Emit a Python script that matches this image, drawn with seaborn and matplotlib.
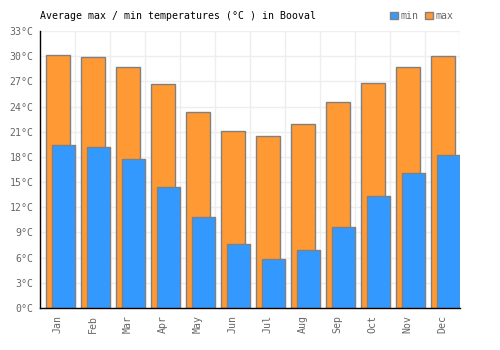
import matplotlib
matplotlib.use("Agg")
import matplotlib.pyplot as plt
import seaborn as sns
import pandas as pd
import numpy as np

# Monthly averages
months = ["Jan", "Feb", "Mar", "Apr", "May", "Jun",
          "Jul", "Aug", "Sep", "Oct", "Nov", "Dec"]
max_temp = [30.2, 29.9, 28.7, 26.7, 23.3, 21.1, 20.5, 21.9, 24.6, 26.8, 28.7, 30.0]
min_temp = [19.4, 19.2, 17.7, 14.4, 10.8, 7.6, 5.8, 6.9, 9.7, 13.4, 16.1, 18.2]
y_ticks = list(range(0, 34, 3))

df = pd.DataFrame({"month": months, "max": max_temp, "min": min_temp})

sns.set_style("white")
plt.rcParams["font.family"] = ["DejaVu Sans Mono"]
fs = 7.1
grey = "#666666"

fig = plt.figure(figsize=(5, 3.5), dpi=100)
ax = fig.add_axes([0.08, 0.12, 0.84, 0.7914])

# max bars first, min bars on top shifted to the right
sns.barplot(data=df, x="month", y="max", color="#ff9933", saturation=1,
            width=0.68, edgecolor="#808080", linewidth=1, errorbar=None,
            label="max", ax=ax)
sns.barplot(data=df, x="month", y="min", color="#3399ff", saturation=1,
            width=0.68, edgecolor="#808080", linewidth=1, errorbar=None,
            label="min", ax=ax)
if ax.get_legend() is not None:
    ax.get_legend().remove()

for bar in ax.containers[0]:
    bar.set_x(bar.get_x() + 0.01)
for bar in ax.containers[1]:
    bar.set_x(bar.get_x() + 0.17)

ax.set_xlim(-0.5, 11.5)
ax.set_ylim(0, 33)
ax.set_yticks(y_ticks)
ax.set_yticklabels([f"{v}°C" for v in y_ticks])
ax.set_xlabel("")
ax.set_ylabel("")

# grid
ax.set_axisbelow(True)
ax.yaxis.grid(True, color="#eeeeee", lw=1)
ax.set_xticks(np.arange(0.5, 11.6, 1), minor=True)
ax.xaxis.grid(True, which="minor", color="#eeeeee", lw=1)
ax.xaxis.grid(False, which="major")

for side in ["top", "right"]:
    ax.spines[side].set_visible(False)
for side in ["left", "bottom"]:
    ax.spines[side].set_color("black")
    ax.spines[side].set_linewidth(1)

ax.tick_params(axis="both", which="both", length=0, labelsize=fs, labelcolor=grey)
ax.tick_params(axis="y", pad=4.5)
ax.tick_params(axis="x", pad=5)
plt.setp(ax.get_xticklabels(), rotation=90)

fig.text(0.08, 0.954, "Average max / min temperatures (°C ) in Booval",
         fontsize=fs, color="black", va="center", ha="left")

h_max = ax.containers[0]
h_min = ax.containers[1]
fig.legend(handles=[h_min, h_max], labels=["min", "max"], loc="center right",
           bbox_to_anchor=(0.906, 0.954), ncol=2, frameon=False,
           handlelength=0.75, handleheight=0.75, handletextpad=0.25,
           columnspacing=0.7, borderpad=0, borderaxespad=0,
           fontsize=fs, labelcolor=grey)

fig.savefig("out.png", dpi=100)
